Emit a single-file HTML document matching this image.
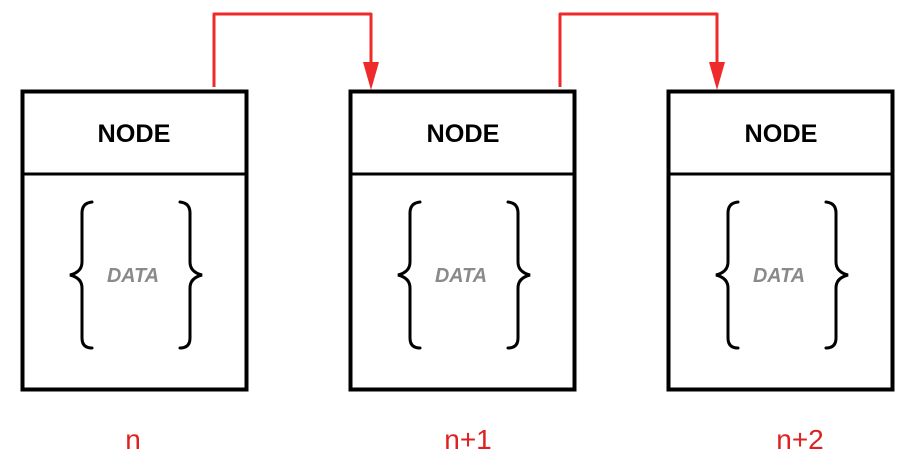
<!DOCTYPE html>
<html><head><style>body{margin:0;background:#fff;}svg{display:block}</style></head>
<body>
<svg width="907" height="454" viewBox="0 0 907 454" xmlns="http://www.w3.org/2000/svg">
<defs>
<g id="node">
<rect x="22.5" y="91.5" width="224" height="298" fill="#fff" stroke="#000" stroke-width="4"/>
<line x1="22.5" y1="174" x2="246.5" y2="174" stroke="#000" stroke-width="3"/>
<path d="M92,202 Q82,203 82,213 L82,262 Q82,272 70,275 Q82,278 82,288 L82,338 Q82,348 92,348" fill="none" stroke="#000" stroke-width="3" stroke-linecap="round"/>
<path d="M180,202 Q190,203 190,213 L190,262 Q190,272 202,275 Q190,278 190,288 L190,338 Q190,348 180,348" fill="none" stroke="#000" stroke-width="3" stroke-linecap="round"/>
</g>
</defs>
<use href="#node"/>
<use href="#node" x="328"/>
<use href="#node" x="646"/>
<g font-family="Liberation Sans, sans-serif" font-weight="bold" font-size="25" text-anchor="middle" fill="#000" textLength="73">
<text x="134" y="142" textLength="73" lengthAdjust="spacingAndGlyphs">NODE</text>
<text x="463" y="142" textLength="73" lengthAdjust="spacingAndGlyphs">NODE</text>
<text x="781" y="142" textLength="73" lengthAdjust="spacingAndGlyphs">NODE</text>
</g>
<g font-family="Liberation Sans, sans-serif" font-weight="bold" font-style="italic" font-size="20" text-anchor="middle" fill="#8a8a8a">
<text x="133" y="282" textLength="52" lengthAdjust="spacingAndGlyphs">DATA</text>
<text x="461" y="282" textLength="52" lengthAdjust="spacingAndGlyphs">DATA</text>
<text x="779" y="282" textLength="52" lengthAdjust="spacingAndGlyphs">DATA</text>
</g>
<g fill="none" stroke="#ee2a2a" stroke-width="3" stroke-linejoin="round">
<path d="M214,87 L214,14 L371,14 L371,64"/>
<path d="M560,87 L560,14 L717,14 L717,64"/>
</g>
<g fill="#ee2a2a">
<path d="M363,62 L379,62 L371,90 Z"/>
<path d="M709,62 L725,62 L717,90 Z"/>
</g>
<g font-family="Liberation Sans, sans-serif" font-size="28" text-anchor="middle" fill="#e02020">
<text x="133" y="449">n</text>
<text x="468" y="449">n+1</text>
<text x="800" y="449">n+2</text>
</g>
</svg>
</body></html>
